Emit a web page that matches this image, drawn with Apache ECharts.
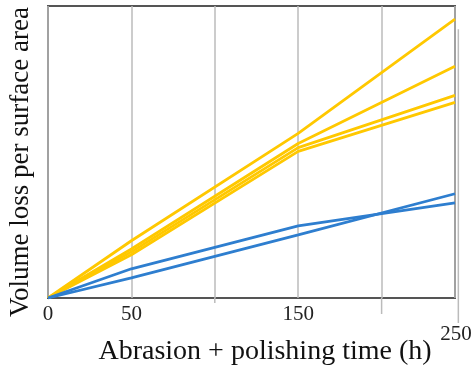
<!DOCTYPE html>
<html>
<head>
<meta charset="utf-8">
<script src="https://cdn.jsdelivr.net/npm/echarts@6/dist/echarts.min.js"></script>
<style>html,body{margin:0;padding:0;background:#fff}#c{width:474px;height:367px}</style>
</head>
<body>
<div id="c"></div>
<script>
var xValues = [0, 50, 150, 244];
var yellow1 = [0, 19.6, 56.4, 95.5];
var yellow2 = [0, 16.8, 52.9, 79.4];
var yellow3 = [0, 15.8, 51.5, 69.4];
var yellow4 = [0, 14.8, 50.2, 67.0];
var blue1 = [0, 10.0, 24.7, 32.6];
var blue2 = [0, 6.9, 21.6, 35.7];
var shownTicks = ['0', '50', '150'];
var xTitle = 'Abrasion + polishing time (h)';
var yTitle = 'Volume loss per surface area';
var extraTick = '250';

var YEL = '#FFC800', BLU = '#2E7ECF';
function mk(vals, color) {
  return {
    type: 'line', showSymbol: false, symbol: 'none', animation: false,
    lineStyle: {color: color, width: 2.8}, itemStyle: {color: color},
    data: xValues.map(function (x, i) { return [x, vals[i]]; })
  };
}
var serif = '"Liberation Serif", "DejaVu Serif", serif';
var chart = echarts.init(document.getElementById('c'), null, {renderer: 'canvas'});
chart.setOption({
  animation: false,
  grid: {left: 48, right: 19, top: 6, bottom: 69, show: true, borderColor: '#555', borderWidth: 2, backgroundColor: 'transparent', containLabel: false, outerBoundsMode: 'none'},
  xAxis: {
    type: 'value', min: 0, max: 244, interval: 50,
    axisLine: {show: false}, axisTick: {show: false},
    splitLine: {show: true, lineStyle: {color: '#bbb', width: 1.5}},
    axisLabel: {
      fontFamily: serif, fontSize: 21, color: '#222', margin: 6,
      formatter: function (v) { return shownTicks.indexOf(String(v)) >= 0 ? String(v) : ''; }
    },
    name: xTitle, nameLocation: 'middle', nameGap: 40,
    nameTextStyle: {fontFamily: serif, fontSize: 28, color: '#111', padding: [0, 0, 0, 27]}
  },
  yAxis: {
    type: 'value', min: 0, max: 100,
    axisLine: {show: false}, axisTick: {show: false}, splitLine: {show: false},
    axisLabel: {show: false},
    name: yTitle, nameLocation: 'middle', nameGap: 14,
    nameTextStyle: {fontFamily: serif, fontSize: 27, color: '#111', padding: [0, 20, 0, 0]}
  },
  series: [mk(yellow1, YEL), mk(yellow2, YEL), mk(yellow3, YEL), mk(yellow4, YEL), mk(blue1, BLU), mk(blue2, BLU)]
});
var p100 = chart.convertToPixel({xAxisIndex: 0}, 100);
var p200 = chart.convertToPixel({xAxisIndex: 0}, 200);
var p246 = chart.convertToPixel({xAxisIndex: 0}, 246);
var y0 = chart.convertToPixel({yAxisIndex: 0}, 0);
var y90 = chart.convertToPixel({yAxisIndex: 0}, 92);
chart.setOption({
  graphic: [
    {type: 'line', shape: {x1: p100, y1: y0, x2: p100, y2: y0 + 5}, style: {stroke: '#bbb', lineWidth: 1.5}},
    {type: 'line', shape: {x1: p200, y1: y0, x2: p200, y2: y0 + 16}, style: {stroke: '#bbb', lineWidth: 1.5}},
    {type: 'line', shape: {x1: p246, y1: y90, x2: p246, y2: y0 + 25}, style: {stroke: '#bbb', lineWidth: 1.5}},
    {type: 'text', x: p246 - 18, y: y0 + 26, style: {text: extraTick, fontFamily: serif, fontSize: 21, fill: '#222'}}
  ]
});
</script>
</body>
</html>
